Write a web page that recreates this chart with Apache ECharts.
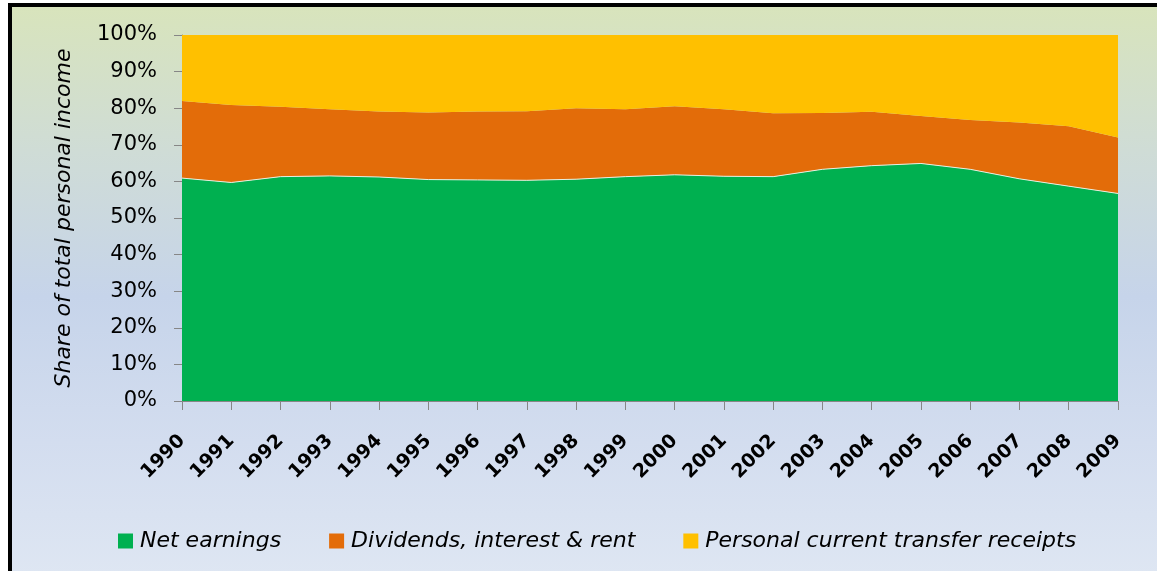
<!DOCTYPE html>
<html>
<head>
<meta charset="utf-8">
<script src="https://cdn.jsdelivr.net/npm/echarts@6/dist/echarts.min.js"></script>
<style>
  html, body { margin: 0; padding: 0; background: #ffffff; }
  #frame {
    position: absolute; left: 8px; top: 3px; width: 1160px; height: 580px;
    border-top: 4px solid #000; border-left: 4px solid #000;
    background: linear-gradient(180deg, #d8e4bc 0%, #cfdcd6 25%, #c6d4ea 50%, #d3ddef 75%, #dfe7f3 100%);
  }
  #chart { position: absolute; left: 0; top: 0; width: 1157px; height: 571px; }
</style>
</head>
<body>
<div id="frame"></div>
<div id="chart"></div>
<script>
const years = ['1990','1991','1992','1993','1994','1995','1996','1997','1998','1999',
               '2000','2001','2002','2003','2004','2005','2006','2007','2008','2009'];
const netEarnings = [60.9, 59.7, 61.3, 61.5, 61.2, 60.5, 60.4, 60.3, 60.6, 61.3,
                     61.8, 61.4, 61.3, 63.3, 64.3, 64.9, 63.3, 60.7, 58.7, 56.7];
const dividends   = [21.1, 21.2, 19.1, 18.2, 17.9, 18.3, 18.7, 18.9, 19.4, 18.4,
                     18.7, 18.3, 17.3, 15.4, 14.7, 13.0, 13.5, 15.4, 16.4, 15.3];
const transfers   = [18.0, 19.1, 19.6, 20.3, 20.9, 21.2, 20.9, 20.8, 20.0, 20.3,
                     19.5, 20.3, 21.4, 21.3, 21.0, 22.1, 23.2, 23.9, 24.9, 28.0];
const yTicks = [0, 10, 20, 30, 40, 50, 60, 70, 80, 90, 100];

const chart = echarts.init(document.getElementById('chart'), null, { renderer: 'canvas' });
const font = 'DejaVu Sans';
chart.setOption({
  backgroundColor: 'transparent',
  animation: false,
  grid: { left: 182, right: 39, top: 35, bottom: 170 },
  legend: {
    left: 118, top: 530, padding: 0,
    itemWidth: 15, itemHeight: 15, itemGap: 48,
    icon: 'rect',
    textStyle: { fontFamily: font, fontStyle: 'italic', fontSize: 22, lineHeight: 22, color: '#000', padding: [0, 0, 0, 2] },
    data: ['Net earnings', 'Dividends, interest & rent', 'Personal current transfer receipts']
  },
  xAxis: {
    type: 'category', data: years, boundaryGap: false,
    axisLine: { lineStyle: { color: '#868686', width: 1 } },
    axisTick: { show: true, length: 9, alignWithLabel: true, lineStyle: { color: '#868686' } },
    axisLabel: { rotate: 45, margin: 37, interval: 0, fontFamily: font, fontWeight: 'bold', fontSize: 19, color: '#000' }
  },
  yAxis: {
    type: 'value', min: yTicks[0], max: yTicks[yTicks.length - 1], interval: 10,
    name: 'Share of total personal income', nameLocation: 'middle', nameGap: 107,
    nameTextStyle: { fontFamily: font, fontStyle: 'italic', fontSize: 22, color: '#000' },
    axisLine: { show: true, lineStyle: { color: '#868686', width: 1 } },
    axisTick: { show: true, length: 8, lineStyle: { color: '#868686' } },
    splitLine: { show: false },
    axisLabel: { margin: 25, fontFamily: font, fontSize: 21, color: '#000', formatter: v => v + '%' }
  },
  series: [
    { name: 'Net earnings', type: 'line', stack: 'all', data: netEarnings, symbol: 'none',
      itemStyle: { color: '#00b050' },
      lineStyle: { color: '#e4efe0', width: 1 }, areaStyle: { color: '#00b050', opacity: 1 } },
    { name: 'Dividends, interest & rent', type: 'line', stack: 'all', data: dividends, symbol: 'none',
      itemStyle: { color: '#e36c09' },
      lineStyle: { width: 0 }, areaStyle: { color: '#e36c09', opacity: 1 } },
    { name: 'Personal current transfer receipts', type: 'line', stack: 'all', data: transfers, symbol: 'none',
      itemStyle: { color: '#ffc000' },
      lineStyle: { width: 0 }, areaStyle: { color: '#ffc000', opacity: 1 } }
  ]
});
</script>
</body>
</html>
